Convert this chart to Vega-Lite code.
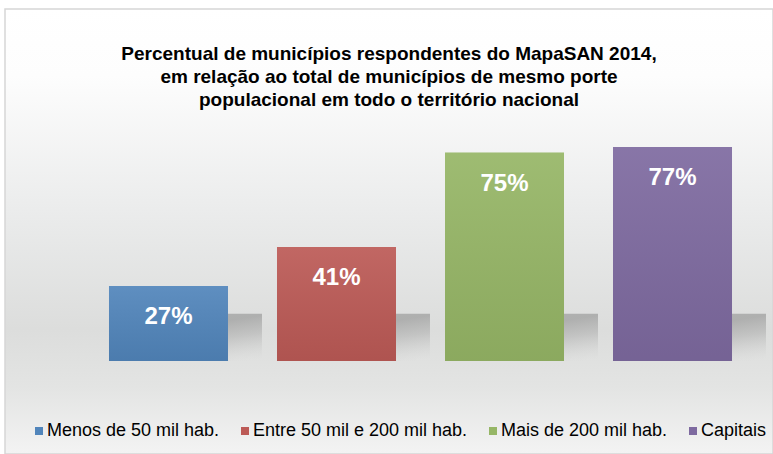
{
  "$schema": "https://vega.github.io/schema/vega-lite/v6.json",
  "width": 768,
  "height": 445,
  "autosize": "none",
  "padding": {"left": 5, "top": 9, "right": 0, "bottom": 0},
  "background": "#ffffff",
  "config": {"view": {"stroke": null}},
  "title": {
    "text": ["Percentual de municípios respondentes do MapaSAN 2014,", "em relação ao total de municípios de mesmo porte", "populacional em todo o território nacional"],
    "font": "Liberation Sans",
    "fontSize": 19,
    "fontWeight": "bold",
    "color": "#000000",
    "lineHeight": 23,
    "anchor": "middle",
    "offset": -102
  },
  "datasets": {
    "main": [
      {"porte": "Menos de 50 mil hab.", "pct": 27, "label": "27%"},
      {"porte": "Entre 50 mil e 200 mil hab.", "pct": 41, "label": "41%"},
      {"porte": "Mais de 200 mil hab.", "pct": 75, "label": "75%"},
      {"porte": "Capitais", "pct": 77, "label": "77%"}
    ]
  },
  "data": {"name": "main"},
  "encoding": {
    "x": {
      "field": "porte", "type": "nominal", "sort": null, "axis": null,
      "scale": {"range": [79.5, 751.5], "paddingInner": 0.2917, "paddingOuter": 0.1458}
    }
  },
  "layer": [
    {
      "data": {"values": [{"bg": 1}]},
      "mark": {
        "type": "rect",
        "x2Offset": 20,
        "y2Offset": 20,
        "stroke": "#d6d6d6",
        "strokeWidth": 1.5,
        "fill": {
          "gradient": "linear", "x1": 0, "y1": 0, "x2": 0, "y2": 1,
          "stops": [
            {"offset": 0, "color": "#ffffff"},
            {"offset": 0.15, "color": "#fdfdfd"},
            {"offset": 0.45, "color": "#ebecec"},
            {"offset": 0.72, "color": "#dcdddc"},
            {"offset": 0.85, "color": "#e3e4e3"},
            {"offset": 1, "color": "#f3f3f3"}
          ]
        }
      },
      "encoding": {"x": null}
    },
    {
      "mark": {
        "type": "bar",
        "xOffset": 34,
        "fill": {
          "gradient": "linear", "x1": 0.7, "y1": 0.15, "x2": 1, "y2": 0.95,
          "stops": [
            {"offset": 0, "color": "rgba(110,110,110,0.42)"},
            {"offset": 0.4, "color": "rgba(130,130,130,0.28)"},
            {"offset": 0.8, "color": "rgba(160,160,160,0.08)"},
            {"offset": 1, "color": "rgba(180,180,180,0)"}
          ]
        }
      },
      "encoding": {
        "y": {"datum": 17, "type": "quantitative", "scale": {"domain": [0, 80], "range": [352, 129.6]}, "axis": null},
        "y2": {"datum": 0}
      }
    },
    {
      "mark": {"type": "bar"},
      "encoding": {
        "y": {"field": "pct", "type": "quantitative", "scale": {"domain": [0, 80], "range": [352, 129.6]}, "axis": null},
        "color": {
          "field": "porte", "type": "nominal", "sort": null,
          "scale": {"range": ["#5185bb", "#bc5a56", "#96b666", "#7e6aa0"]},
          "legend": {
            "orient": "none",
            "legendX": 25,
            "legendY": 413,
            "direction": "horizontal",
            "title": null,
            "symbolType": "square",
            "symbolSize": 64,
            "symbolStrokeWidth": 0,
            "labelFont": "Liberation Sans",
            "labelFontSize": 18,
            "labelLimit": 400,
            "labelColor": "#000000",
            "labelOffset": -1,
            "columnPadding": 16
          }
        }
      }
    },
    {
      "mark": {
        "type": "bar",
        "fill": {
          "gradient": "linear", "x1": 0, "y1": 0, "x2": 0, "y2": 1,
          "stops": [
            {"offset": 0, "color": "rgba(255,255,255,0.08)"},
            {"offset": 1, "color": "rgba(0,0,0,0.07)"}
          ]
        }
      },
      "encoding": {
        "y": {"field": "pct", "type": "quantitative", "scale": {"domain": [0, 80], "range": [352, 129.6]}, "axis": null}
      }
    },
    {
      "mark": {"type": "text", "font": "Liberation Sans", "fontSize": 24, "fontWeight": "bold", "color": "#ffffff", "baseline": "middle", "dy": 31},
      "encoding": {
        "y": {"field": "pct", "type": "quantitative", "scale": {"domain": [0, 80], "range": [352, 129.6]}, "axis": null},
        "text": {"field": "label"}
      }
    }
  ]
}
